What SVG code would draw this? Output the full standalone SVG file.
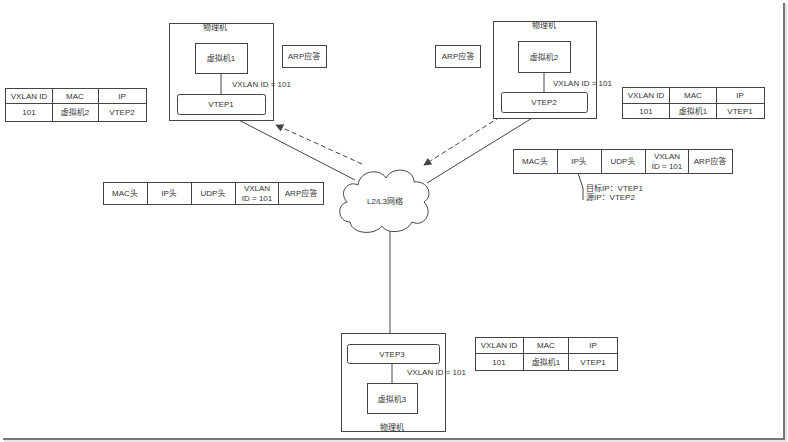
<svg xmlns="http://www.w3.org/2000/svg" width="788" height="442" viewBox="0 0 788 442">
<style>
text{font-family:"Liberation Sans","Noto Sans CJK SC",sans-serif;font-size:8px;fill:#333;text-anchor:middle;dominant-baseline:central}
.b{fill:#fff;stroke:#444;stroke-width:1}
.l{stroke:#444;stroke-width:1;fill:none}
.d{stroke:#444;stroke-width:1;fill:none;stroke-dasharray:5,3}
.s{text-anchor:start}
</style>
<defs>
<marker id="ah" viewBox="0 0 10 10" refX="9" refY="5" markerWidth="8" markerHeight="8" orient="auto" markerUnits="userSpaceOnUse">
<path d="M0,0 L10,5 L0,10 Z" fill="#444"/>
</marker>
</defs>
<rect width="788" height="442" fill="#fff"/>
<g id="frame">
<line x1="784" y1="3" x2="784" y2="439" stroke="#777" stroke-width="2"/>
<line x1="3" y1="439" x2="785" y2="439" stroke="#777" stroke-width="2"/>
<line x1="786" y1="4" x2="786" y2="441" stroke="#ccc" stroke-width="1"/>
<line x1="4" y1="441" x2="786" y2="441" stroke="#ccc" stroke-width="1"/>
</g>
<g id="connectors">
<line class="l" x1="225" y1="113" x2="355" y2="180"/>
<line class="l" x1="542" y1="112" x2="427" y2="183"/>
<line class="l" x1="390" y1="231" x2="390" y2="344"/>
<line class="d" x1="362" y1="164" x2="276" y2="125" marker-end="url(#ah)"/>
<line class="d" x1="500" y1="117" x2="424" y2="165" marker-end="url(#ah)"/>
<polyline class="l" points="578,173 583,188 583,200"/>
</g>
<g id="pm1">
<rect class="b" x="169.5" y="23.5" width="104" height="97"/>
<text x="215" y="27">物理机</text>
<rect class="b" x="195.5" y="43.5" width="52" height="30"/>
<text x="221" y="58">虚拟机1</text>
<line class="l" x1="221" y1="73.5" x2="221" y2="94"/>
<rect class="b" x="177.5" y="94.5" width="88" height="20" rx="2"/>
<text x="221" y="104">VTEP1</text>
<text class="s" x="232" y="84">VXLAN ID = 101</text>
</g>
<g id="arp1">
<rect class="b" x="282.5" y="45.5" width="44" height="22"/>
<text x="304" y="56">ARP应答</text>
</g>
<g id="pm2">
<rect class="b" x="493.5" y="21.5" width="103" height="97"/>
<text x="544" y="25">物理机</text>
<rect class="b" x="518.5" y="41.5" width="52" height="31"/>
<text x="544" y="57">虚拟机2</text>
<line class="l" x1="544" y1="72.5" x2="544" y2="92"/>
<rect class="b" x="501.5" y="92.5" width="86" height="20" rx="2"/>
<text x="544" y="102">VTEP2</text>
<text class="s" x="553" y="83">VXLAN ID = 101</text>
</g>
<g id="arp2">
<rect class="b" x="435.5" y="45.5" width="45" height="22"/>
<text x="458" y="56">ARP应答</text>
</g>
<g id="table1">
<rect class="b" x="5.5" y="88.5" width="141" height="33"/>
<line class="l" x1="5.5" y1="103.5" x2="146.5" y2="103.5"/>
<line class="l" x1="52.5" y1="88.5" x2="52.5" y2="121.5"/>
<line class="l" x1="98.5" y1="88.5" x2="98.5" y2="121.5"/>
<text x="29" y="96">VXLAN ID</text><text x="75" y="96">MAC</text><text x="122" y="96">IP</text>
<text x="29" y="112">101</text><text x="75" y="112">虚拟机2</text><text x="122" y="112">VTEP2</text>
</g>
<g id="table2">
<rect class="b" x="622.5" y="87.5" width="142" height="31"/>
<line class="l" x1="622.5" y1="103.5" x2="764.5" y2="103.5"/>
<line class="l" x1="669.5" y1="87.5" x2="669.5" y2="118.5"/>
<line class="l" x1="716.5" y1="87.5" x2="716.5" y2="118.5"/>
<text x="646" y="95">VXLAN ID</text><text x="693" y="95">MAC</text><text x="740" y="95">IP</text>
<text x="646" y="111">101</text><text x="693" y="111">虚拟机1</text><text x="740" y="111">VTEP1</text>
</g>
<g id="packet1">
<rect class="b" x="103.5" y="182.5" width="220" height="22"/>
<line class="l" x1="147.5" y1="182.5" x2="147.5" y2="204.5"/>
<line class="l" x1="191.5" y1="182.5" x2="191.5" y2="204.5"/>
<line class="l" x1="235.5" y1="182.5" x2="235.5" y2="204.5"/>
<line class="l" x1="278.5" y1="182.5" x2="278.5" y2="204.5"/>
<text x="125" y="193">MAC头</text><text x="169" y="193">IP头</text><text x="213" y="193">UDP头</text>
<text x="257" y="188">VXLAN</text><text x="257" y="198">ID = 101</text>
<text x="301" y="193">ARP应答</text>
</g>
<g id="packet2">
<rect class="b" x="513.5" y="149.5" width="219" height="24"/>
<line class="l" x1="557.5" y1="149.5" x2="557.5" y2="173.5"/>
<line class="l" x1="601.5" y1="149.5" x2="601.5" y2="173.5"/>
<line class="l" x1="645.5" y1="149.5" x2="645.5" y2="173.5"/>
<line class="l" x1="688.5" y1="149.5" x2="688.5" y2="173.5"/>
<text x="535" y="161">MAC头</text><text x="579" y="161">IP头</text><text x="623" y="161">UDP头</text>
<text x="667" y="156">VXLAN</text><text x="667" y="166">ID = 101</text>
<text x="710" y="161">ARP应答</text>
<text class="s" x="586" y="188">目标IP：VTEP1</text>
<text class="s" x="586" y="197">源IP：VTEP2</text>
</g>
<g id="cloud">
<path class="b" d="M350,222 C338,222 336,205 347,202 C338,192 348,180 358,185 C360,170 380,168 386,178 C392,166 414,168 414,182 C428,180 434,196 424,202 C434,212 424,228 412,222 C406,234 386,234 382,226 C374,236 352,234 350,222 Z"/>
<text x="385" y="201">L2/L3网络</text>
</g>
<g id="pm3">
<rect class="b" x="341.5" y="333.5" width="104" height="98"/>
<rect class="b" x="347.5" y="344.5" width="92" height="19" rx="2"/>
<text x="392" y="354">VTEP3</text>
<line class="l" x1="392" y1="363.5" x2="392" y2="383"/>
<rect class="b" x="367.5" y="383.5" width="50" height="30"/>
<text x="392" y="399">虚拟机3</text>
<text class="s" x="407" y="372">VXLAN ID = 101</text>
<text x="392" y="427">物理机</text>
</g>
<g id="table3">
<rect class="b" x="475.5" y="337.5" width="142" height="33"/>
<line class="l" x1="475.5" y1="353.5" x2="617.5" y2="353.5"/>
<line class="l" x1="523.5" y1="337.5" x2="523.5" y2="370.5"/>
<line class="l" x1="568.5" y1="337.5" x2="568.5" y2="370.5"/>
<text x="499" y="345">VXLAN ID</text><text x="546" y="345">MAC</text><text x="593" y="345">IP</text>
<text x="499" y="362">101</text><text x="546" y="362">虚拟机1</text><text x="593" y="362">VTEP1</text>
</g>
</svg>
